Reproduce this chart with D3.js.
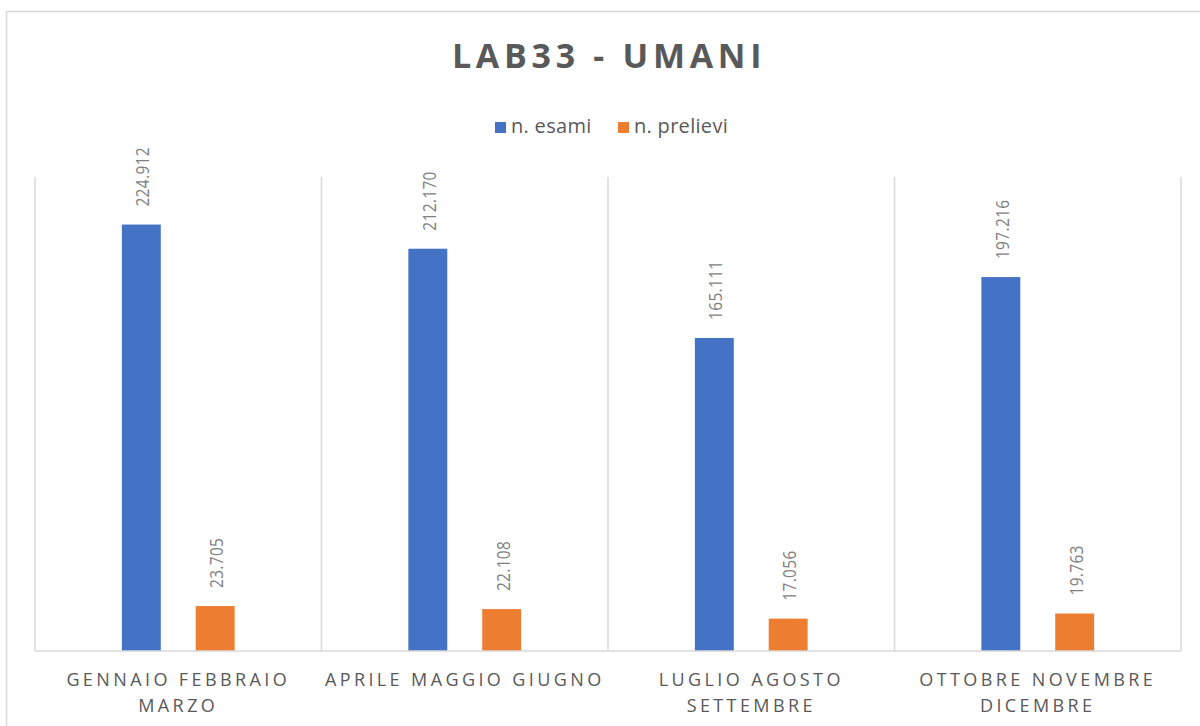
<!DOCTYPE html>
<html>
<head>
<meta charset="utf-8">
<script src="https://cdn.jsdelivr.net/npm/d3@7"></script>
<style>
    body { margin: 0; background: #fff; }
    svg { display: block; font-family: 'Open Sans', 'Liberation Sans', sans-serif; }
</style>
</head>
<body>
<div id="chart"></div>
<script>
const categories = ['GENNAIO FEBBRAIO MARZO', 'APRILE MAGGIO GIUGNO', 'LUGLIO AGOSTO SETTEMBRE', 'OTTOBRE NOVEMBRE DICEMBRE'];
const seriesNames = ['n. esami', 'n. prelievi'];
const esami = [224912, 212170, 165111, 197216];
const prelievi = [23705, 22108, 17056, 19763];
const seriesColors = ['#4472C4', '#ED7D31'];

const width = 1200;
const height = 726;
const margin = {top: 177, right: 19, bottom: 75, left: 35};

const itFormat = d3.formatLocale({decimal: ',', thousands: '.', grouping: [3], currency: ['€', '']}).format(',d');

const svg = d3.select('#chart')
    .append('svg')
    .attr('width', width)
    .attr('height', height);

// chart border
svg.append('rect')
    .attr('x', 6.5)
    .attr('y', 11.5)
    .attr('width', 1210)
    .attr('height', 730)
    .attr('fill', 'none')
    .attr('stroke', '#d9d9d9')
    .attr('stroke-width', 1.5);

svg.append('text')
    .attr('x', 609)
    .attr('y', 68)
    .attr('text-anchor', 'middle')
    .style('font-size', '34px')
    .style('font-weight', 'bold')
    .style('letter-spacing', '4.7px')
    .style('fill', '#595959')
    .text('LAB33 - UMANI');

const data = categories.map((c, i) => ({category: c, values: [esami[i], prelievi[i]]}));

const x0 = d3.scaleBand()
    .domain(categories)
    .range([margin.left, width - margin.right])
    .padding(0);

const x1 = d3.scaleBand()
    .domain(seriesNames)
    .range([0, x0.bandwidth()])
    .paddingInner(0.473)
    .paddingOuter(1.176);

const y = d3.scaleLinear()
    .domain([0, 250000])
    .range([height - margin.bottom, margin.top]);

// vertical separators
svg.append('g')
    .selectAll('line')
    .data(d3.range(categories.length + 1))
    .join('line')
    .attr('x1', i => i < categories.length ? x0(categories[i]) : x0.range()[1])
    .attr('x2', i => i < categories.length ? x0(categories[i]) : x0.range()[1])
    .attr('y1', y(250000))
    .attr('y2', y(0))
    .attr('stroke', '#d9d9d9')
    .attr('stroke-width', 1.5);

// legend
const legend = svg.append('g').attr('transform', 'translate(495,122)');
const legendX = [0, 123];
seriesNames.forEach((s, i) => {
    legend.append('rect')
        .attr('x', legendX[i])
        .attr('y', 0)
        .attr('width', 11)
        .attr('height', 11)
        .attr('fill', seriesColors[i]);
    legend.append('text')
        .attr('x', legendX[i] + 16)
        .attr('y', 10.5)
        .style('font-size', '20px')
        .style('letter-spacing', '0.3px')
        .style('fill', '#595959')
        .text(s);
});

const groups = svg.append('g')
    .selectAll('g')
    .data(data)
    .join('g')
    .attr('transform', d => `translate(${x0(d.category)},0)`);

groups.selectAll('rect')
    .data(d => d.values.map((v, i) => ({series: seriesNames[i], value: v, idx: i})))
    .join('rect')
    .attr('x', d => x1(d.series))
    .attr('y', d => y(d.value))
    .attr('width', x1.bandwidth())
    .attr('height', d => y(0) - y(d.value))
    .attr('fill', d => seriesColors[d.idx]);

groups.selectAll('text.value')
    .data(d => d.values.map((v, i) => ({series: seriesNames[i], value: v})))
    .join('text')
    .attr('class', 'value')
    .attr('transform', d => `translate(${x1(d.series) + x1.bandwidth() / 2 + 1.5},${y(d.value) - 18}) rotate(-90) scale(0.86,1)`)
    .attr('dy', '0.36em')
    .style('font-size', '18px')
    .style('letter-spacing', '0.4px')
    .style('fill', '#7f7f7f')
    .text(d => itFormat(d.value));

// x axis baseline
svg.append('line')
    .attr('x1', x0.range()[0])
    .attr('x2', x0.range()[1])
    .attr('y1', y(0))
    .attr('y2', y(0))
    .attr('stroke', '#d9d9d9')
    .attr('stroke-width', 1.5);

// category labels
svg.append('g')
    .selectAll('text')
    .data(categories)
    .join('text')
    .attr('x', d => x0(d) + x0.bandwidth() / 2)
    .attr('y', 686)
    .attr('text-anchor', 'middle')
    .style('font-size', '18px')
    .style('letter-spacing', '3.4px')
    .style('fill', '#595959')
    .text(d => d)
    .call(wrap, x0.bandwidth());

function wrap(text, maxWidth) {
    text.each(function() {
        const text = d3.select(this);
        const words = text.text().split(/\s+/).reverse();
        const xPos = text.attr('x');
        let word;
        let line = [];
        let tspan = text.text(null).append('tspan').attr('x', xPos).attr('dy', 0);
        while (word = words.pop()) {
            line.push(word);
            tspan.text(line.join(' '));
            if (tspan.node().getComputedTextLength() > maxWidth && line.length > 1) {
                line.pop();
                tspan.text(line.join(' '));
                line = [word];
                tspan = text.append('tspan').attr('x', xPos).attr('dy', '26px').text(word);
            }
        }
    });
}
</script>
</body>
</html>
